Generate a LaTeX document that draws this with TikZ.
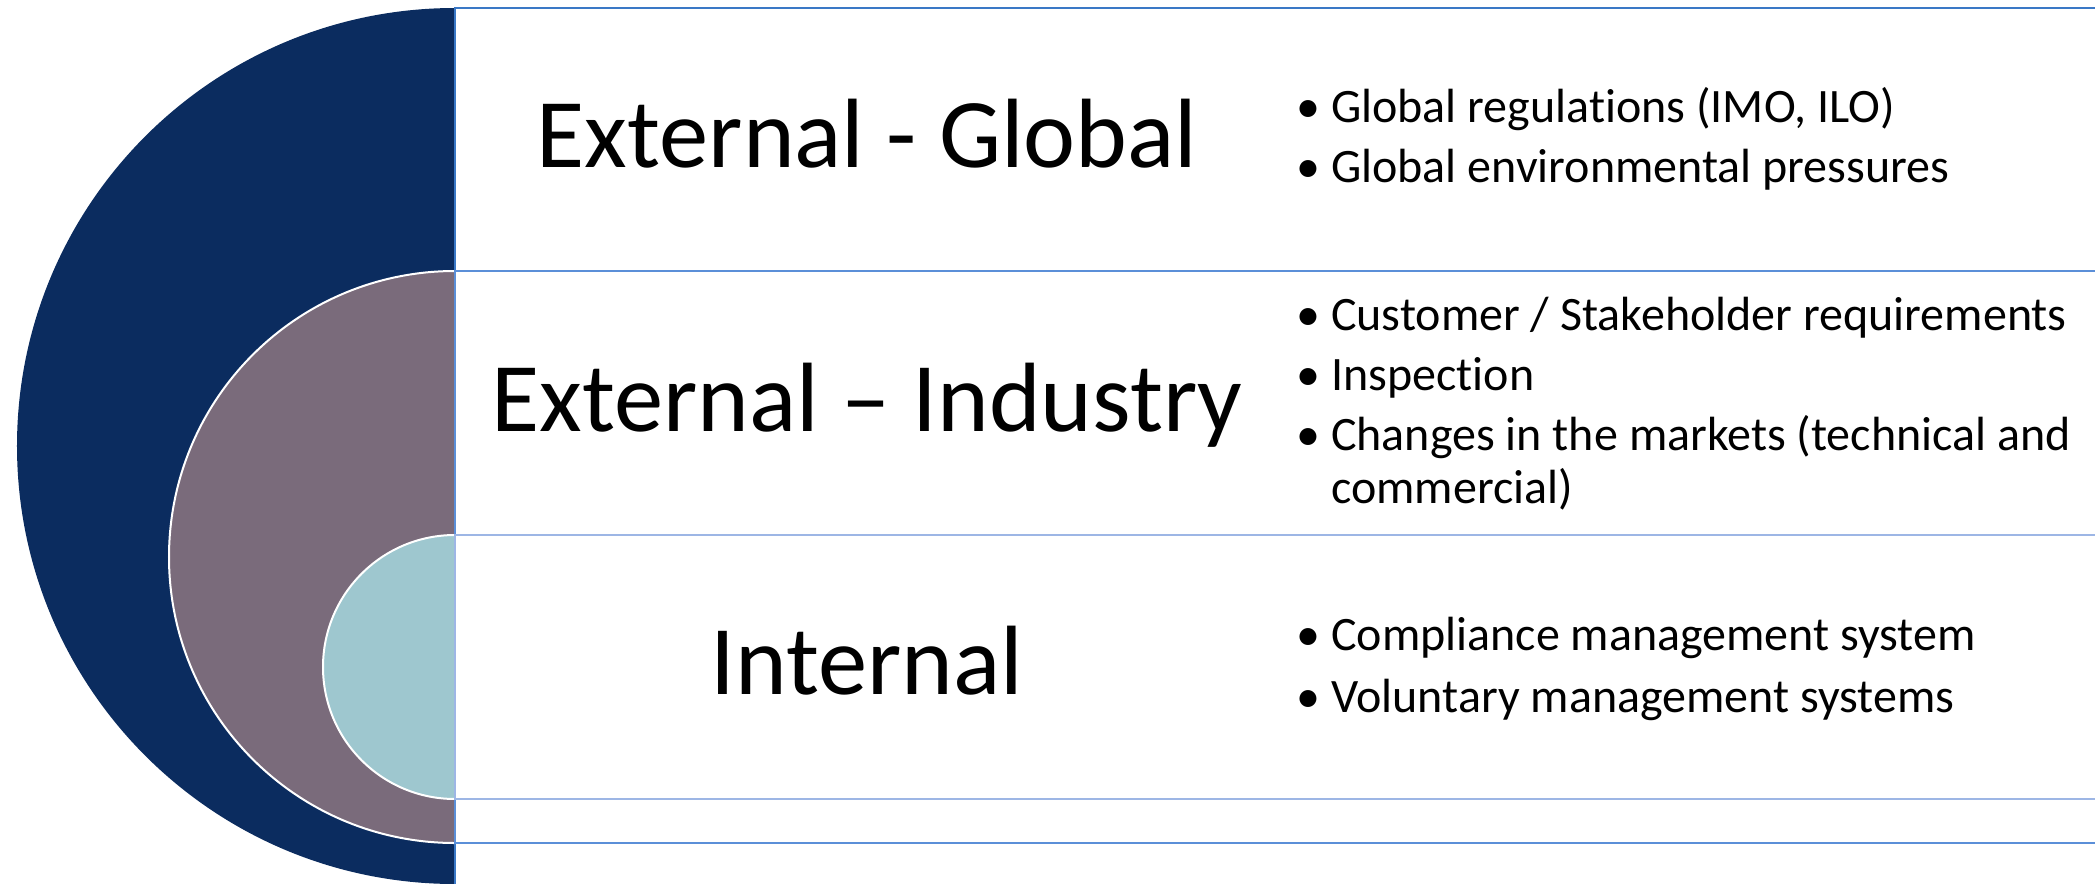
\documentclass[tikz,border=0pt]{standalone}
\usepackage{fontspec}
\setmainfont{Carlito}[Ligatures={NoCommon,NoRare,NoContextual}]
\definecolor{cNavy}{HTML}{0B2C5F}
\definecolor{cMauve}{HTML}{7A6B7B}
\definecolor{cTeal}{HTML}{9EC7CF}
\definecolor{cLineA}{HTML}{3A78C6}
\definecolor{cLineB}{HTML}{5B8FD8}
\definecolor{cLineC}{HTML}{9DB6E5}
\newcommand{\bul}{\makebox[35bp][l]{•}}
\newcommand{\tkn}{t\kern0pt i}
\tikzset{
  titletext/.style={anchor=base, inner sep=0pt, font=\fontsize{98.5bp}{115bp}\selectfont},
  itemtext/.style={anchor=base west, inner sep=0pt, font=\fontsize{48bp}{57bp}\selectfont},
  band/.style={fill=white, line width=2.8bp},
  ring/.style={draw=white, line width=2bp}
}
\begin{document}
\begin{tikzpicture}[x=1bp,y=-1bp]
\clip (0,0) rectangle (2095,884);
\fill[white] (0,0) rectangle (2095,884);
% nested half discs
\begin{scope}
  \clip (0,0) rectangle (455,884);
  \fill[cNavy] (455,446) circle[radius=438bp];
  \fill[cMauve, ring] (455,557) circle[radius=286bp];
  \fill[cTeal, ring] (455,667) circle[radius=132bp];
\end{scope}
% nested bands
\draw[band, draw=cLineA] (455,8) rectangle (2120,910);
\draw[band, draw=cLineB] (455,271) rectangle (2120,843);
\draw[band, draw=cLineC] (455,535) rectangle (2120,799);
% titles
\node[titletext] (t1) at (867,167) {External - Global};
\node[titletext] (t2) at (867,431) {External – Industry};
\node[titletext] (t3) at (867,694) {Internal};
% items
\node[itemtext] (g1) at (1296,122) {\bul Global regula\tkn ons (IMO, ILO)};
\node[itemtext] (g2) at (1296,182) {\bul Global environmental pressures};
\node[itemtext] (i1) at (1296,330) {\bul Customer / Stakeholder requirements};
\node[itemtext] (i2) at (1296,390) {\bul Inspec\tkn on};
\node[itemtext] (i3) at (1296,450) {\bul Changes in the markets (technical and};
\node[itemtext] (i4) at (1331,503) {commercial)};
\node[itemtext] (n1) at (1296,650) {\bul Compliance management system};
\node[itemtext] (n2) at (1296,712) {\bul Voluntary management systems};
\end{tikzpicture}
\end{document}
